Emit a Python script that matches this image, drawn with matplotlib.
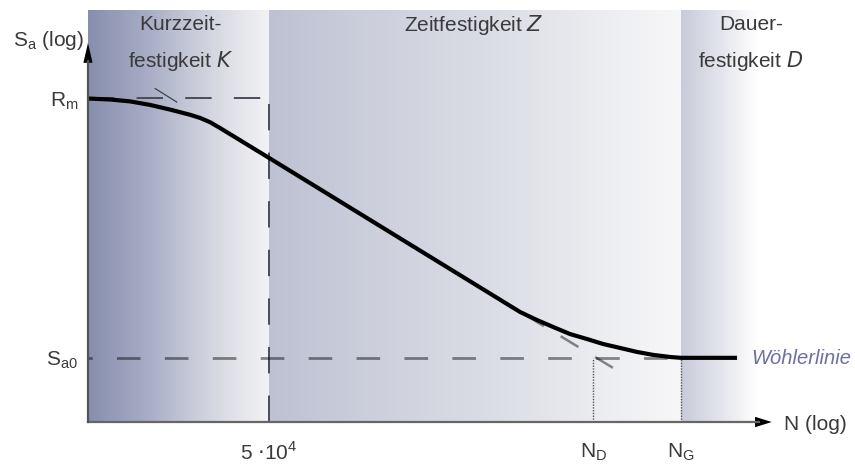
import numpy as np
import matplotlib
matplotlib.use('Agg')
import matplotlib.pyplot as plt
from matplotlib.colors import LinearSegmentedColormap

plt.rcParams['font.family'] = ['Liberation Sans', 'DejaVu Sans']
plt.rcParams['lines.scale_dashes'] = False

# Woehler curve (schematic), log-log
N_curve = [6386, 8200, 10295, 12925, 16227, 20373, 22825, 25573, 28642, 50003,
           8.68e5, 1.053e6, 1.264e6, 1.532e6, 1.860e6, 2.231e6, 2.706e6,
           3.283e6, 3.939e6, 4.778e6, 5.415e6, 1.023e7]
S_curve = [499.1, 497.4, 494.1, 488.0, 480.0, 471.3, 466.1, 459.1, 449.8, 404.8,
           235.1, 228.5, 223.0, 217.5, 213.7, 210.0, 207.1,
           204.2, 202.1, 200.6, 200.0, 200.0]

# Basquin tangent segments
N_tan_top = [1.37e4, 1.75e4]
S_tan_top = [517, 493]
N_tan_bot = [9.3e5, 2.96e6]
S_tan_bot = [232.3, 187]

Rm = 500
Sa0 = 200
N_K = 5e4      # end of Kurzzeitfestigkeit
N_D = 2.0e6
N_G = 5.4e6
N_D_end = 1.285e7   # where the Dauerfestigkeit shading fades out

x_min, x_max = 10 ** 3.805, 10 ** 7.222
y_min, y_max = 159.5, 682

fig = plt.figure(figsize=(8.55, 4.69), dpi=100)
ax = fig.add_axes([0.1029, 0.1002, 0.8094, 0.8785])
ax.set_xscale('log')
ax.set_yscale('log')
for s in ax.spines.values():
    s.set_visible(False)
ax.minorticks_off()


def xfrac(n):
    return (np.log10(n) - np.log10(x_min)) / (np.log10(x_max) - np.log10(x_min))


def band(n0, n1, stops):
    cmap = LinearSegmentedColormap.from_list('b', stops)
    grad = np.linspace(0, 1, 256).reshape(1, -1)
    ax.imshow(grad, cmap=cmap, aspect='auto', transform=ax.transAxes,
              extent=[xfrac(n0), xfrac(n1), 0, 1], zorder=0, interpolation='bilinear')


band(x_min, N_K, [(0, '#878eae'), (0.34, '#a9aec6'), (0.62, '#cdd0dc'),
                  (0.8, '#e1e2e8'), (1, '#f3f3f5')])
band(N_K, N_G, [(0, '#bec1d3'), (0.32, '#d0d3de'), (0.56, '#dcdee6'),
                (0.79, '#ebecf0'), (1, '#f7f7f9')])
band(N_G, N_D_end, [(0, '#c8cbd9'), (0.5, '#e3e4eb'), (1, '#ffffff')])
ax.set_xlim(x_min, x_max)
ax.set_ylim(y_min, y_max)

# reference lines
ax.plot([x_min, N_K], [Rm, Rm], color='#4a4c58', lw=1.4, dashes=(19, 16), zorder=2)
ax.plot([N_K, N_K], [y_min, Rm], color='#4a4c58', lw=1.4, dashes=(19, 16), zorder=2)
ax.plot([x_min, N_G], [Sa0, Sa0], color='black', alpha=0.45, lw=2.0,
        ls=(14, (17, 17.5)), zorder=2)
ax.plot([N_D, N_D], [y_min, Sa0], color='#555555', lw=1.0, ls=(0, (1, 1)), zorder=2)
ax.plot([N_G, N_G], [y_min, Sa0], color='#555555', lw=1.0, ls=(0, (1, 1)), zorder=2)

# tangent
ax.plot(N_tan_top, S_tan_top, color='#444444', lw=0.9, zorder=2)
ax.plot(N_tan_bot, S_tan_bot, color='black', alpha=0.45, lw=1.8,
        dashes=(15, 14), zorder=2)

# curve
ax.plot(N_curve, S_curve, color='black', lw=3.0, solid_capstyle='butt',
        solid_joinstyle='round', zorder=3)

# axes with arrows
ax.annotate('', xy=(0.988, 0), xytext=(0, 0), xycoords='axes fraction',
            arrowprops=dict(arrowstyle='-|>,head_length=0.8,head_width=0.25',
                            color='black', lw=0, mutation_scale=15,
                            shrinkA=0, shrinkB=0), zorder=4)
ax.plot([0, 0.97], [0, 0], transform=ax.transAxes, color='#666666', lw=1.6,
        zorder=4, clip_on=False)
ax.annotate('', xy=(0, 0.92), xytext=(0, 0), xycoords='axes fraction',
            arrowprops=dict(arrowstyle='-|>,head_length=1.3,head_width=0.3',
                            color='black', lw=0, mutation_scale=11,
                            shrinkA=0, shrinkB=0), zorder=4)
ax.plot([0, 0], [0, 0.875], transform=ax.transAxes, color='#555555', lw=1.6,
        zorder=4, clip_on=False)

txt = '#3a3a3a'
fs = 15
ax.set_xticks([N_K, N_D, N_G])
ax.set_xticklabels([r'5 $\cdot$10$^\mathregular{4}$', r'N$_\mathregular{D}$', r'N$_\mathregular{G}$'])
ax.set_yticks([Sa0, Rm])
ax.set_yticklabels([r'S$_\mathregular{a0}$', r'R$_\mathregular{m}$'])
ax.tick_params(axis='both', length=0, labelsize=fs, colors=txt)
ax.tick_params(axis='x', pad=14)
ax.tick_params(axis='y', pad=7)

# labels
ax.text(-0.108, 0.925, r'S$_\mathregular{a}$ (log)', transform=ax.transAxes,
        fontsize=fs, color=txt, va='center', ha='left')
ax.text(1.006, -0.005, 'N (log)', transform=ax.transAxes, fontsize=fs,
        color=txt, va='center', ha='left', clip_on=False)
ax.text(1.103, 0.155, 'Wöhlerlinie', transform=ax.transAxes, fontsize=14.5,
        color='#6a70a0', style='italic', va='center', ha='right', clip_on=False)

ax.text(0.1343, 0.964, 'Kurzzeit-', transform=ax.transAxes, fontsize=fs,
        color=txt, ha='center', va='center')
ax.text(0.1343, 0.876, 'festigkeit $\\it{K}$', transform=ax.transAxes, fontsize=fs,
        color=txt, ha='center', va='center')
ax.text(0.558, 0.964, 'Zeitfestigkeit $\\it{Z}$', transform=ax.transAxes,
        fontsize=fs, color=txt, ha='center', va='center')
ax.text(0.958, 0.964, 'Dauer-', transform=ax.transAxes, fontsize=fs,
        color=txt, ha='center', va='center', clip_on=False)
ax.text(0.958, 0.876, 'festigkeit $\\it{D}$', transform=ax.transAxes, fontsize=fs,
        color=txt, ha='center', va='center', clip_on=False)

fig.savefig('out.png', dpi=100)
